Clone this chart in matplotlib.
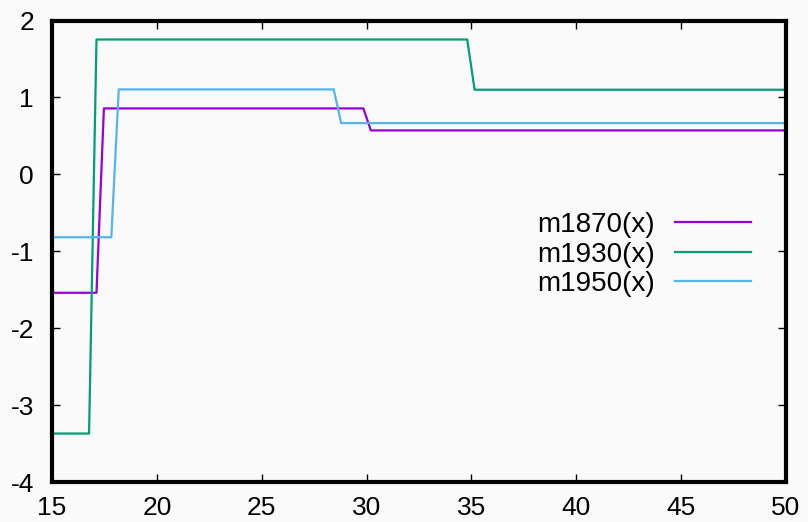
import numpy as np
import matplotlib.pyplot as plt

# step functions: breakpoints in x and the level on each piece
x_min, x_max = 15, 50
n_samples = 100

breaks_1870 = [17.3, 30.0]
levels_1870 = [-1.54, 0.857, 0.571]

breaks_1930 = [17.0, 35.0]
levels_1930 = [-3.37, 1.753, 1.10]

breaks_1950 = [18.0, 28.6]
levels_1950 = [-0.818, 1.104, 0.666]

labels = ['m1870(x)', 'm1930(x)', 'm1950(x)']
colors = ['#9400d3', '#009e73', '#56b4e9']

xticks = [15, 20, 25, 30, 35, 40, 45, 50]
yticks = [-4, -3, -2, -1, 0, 1, 2]


def step(x, breaks, levels):
    ''' piecewise constant function, sampled like gnuplot does'''
    return np.array(levels)[np.searchsorted(breaks, x)]


plt.rcParams['font.family'] = ['Liberation Sans', 'DejaVu Sans']

fig = plt.figure(figsize=(8.08, 5.22), dpi=100, facecolor='#fafafa')
ax = fig.add_axes([52 / 808, 1 - 482 / 522, (786 - 52) / 808, (482 - 20.5) / 522])
ax.set_facecolor('#fafafa')

xs = np.linspace(x_min, x_max, n_samples)
series = [(breaks_1870, levels_1870), (breaks_1930, levels_1930), (breaks_1950, levels_1950)]
for (b, l), lab, col in zip(series, labels, colors):
    ax.plot(xs, step(xs, b, l), color=col, lw=1.6, label=lab)

ax.set_xlim(x_min, x_max)
ax.set_ylim(-4, 2)
ax.set_xticks(xticks)
ax.set_yticks(yticks)
ax.set_xticklabels([str(t) for t in xticks])
ax.set_yticklabels([str(t) for t in yticks])

for s in ax.spines.values():
    s.set_linewidth(3)
ax.tick_params(direction='in', length=6, width=1, labelsize=19,
               top=True, right=True, pad=10)
ax.tick_params(axis='y', pad=13)

leg = ax.legend(loc='center right', bbox_to_anchor=(751 / 808, 1 - 254.5 / 522),
                bbox_transform=fig.transFigure, frameon=False, markerfirst=False,
                fontsize=20, handlelength=2.75, handletextpad=0.7,
                labelspacing=0.12, borderpad=0, borderaxespad=0)
for t in leg.get_texts():
    t.set_ha('right')

fig.savefig('out.png', dpi=100, facecolor='#fafafa')
